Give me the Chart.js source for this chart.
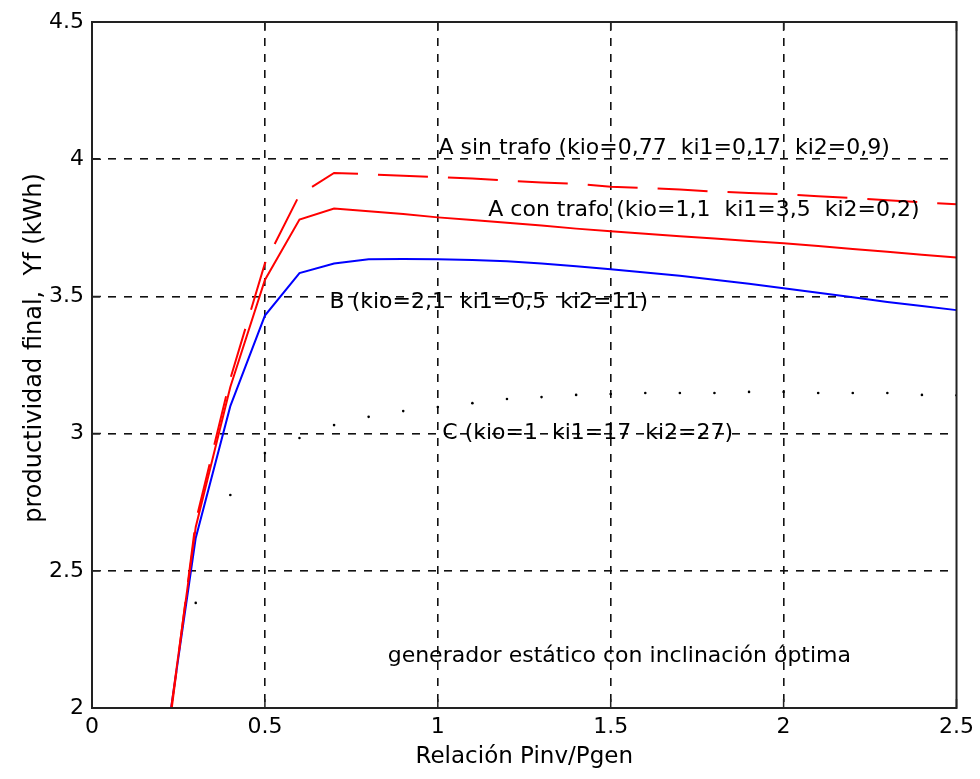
<!DOCTYPE html>
<html>
<head>
<meta charset="utf-8">
<script src="https://cdn.jsdelivr.net/npm/chart.js@4/dist/chart.umd.min.js"></script>
<style>
  html, body { margin: 0; padding: 0; background: #fff; }
</style>
</head>
<body>
<canvas id="yf-chart" width="980" height="779"></canvas>
<script>
// ratio Pinv/Pgen, sampled every 0.1
const ratio = [0.2, 0.3, 0.4, 0.5, 0.6, 0.7, 0.8, 0.9, 1.0, 1.1, 1.2, 1.3,
               1.4, 1.5, 1.6, 1.7, 1.8, 1.9, 2.0, 2.1, 2.2, 2.3, 2.4, 2.5];

// A sin trafo (dashed red)
const yfSinTrafo = [1.70, 2.68, 3.20, 3.62, 3.87, 3.95, 3.945, 3.94, 3.935, 3.93, 3.922, 3.915,
                    3.91, 3.90, 3.895, 3.89, 3.882, 3.877, 3.872, 3.865, 3.858, 3.85, 3.843, 3.836];
// A con trafo (solid red)
const yfConTrafo = [1.73, 2.66, 3.17, 3.56, 3.78, 3.82, 3.81, 3.80, 3.788, 3.778, 3.768, 3.758,
                    3.747, 3.737, 3.728, 3.719, 3.711, 3.702, 3.694, 3.684, 3.673, 3.663, 3.652, 3.642];
// B (blue)
const yfB = [1.75, 2.62, 3.10, 3.43, 3.585, 3.62, 3.635, 3.636, 3.635, 3.633, 3.628, 3.62,
             3.61, 3.599, 3.587, 3.575, 3.561, 3.546, 3.53, 3.513, 3.497, 3.48, 3.465, 3.45];
// C (dotted black)
const yfC = [1.90, 2.383, 2.776, 2.929, 2.984, 3.031, 3.061, 3.082, 3.097, 3.111, 3.126, 3.133,
             3.141, 3.144, 3.148, 3.148, 3.148, 3.152, 3.152, 3.148, 3.148, 3.148, 3.141, 3.14];

const xTickLabels = ['0', '0.5', '1', '1.5', '2', '2.5'];
const yTickLabels = ['2', '2.5', '3', '3.5', '4', '4.5'];

const xTitle = 'Relación Pinv/Pgen';
const yTitle = 'productividad final,  Yf (kWh)';

// text notes inside the axes, anchored in data units (left edge, middle)
const notes = [
  { text: 'A sin trafo (kio=0,77  ki1=0,17  ki2=0,9)', x: 1.002, y: 4.04 },
  { text: 'A con trafo (kio=1,1  ki1=3,5  ki2=0,2)', x: 1.146, y: 3.815 },
  { text: 'B (kio=2,1  ki1=0,5  ki2=11)', x: 0.687, y: 3.48 },
  { text: 'C (kio=1  ki1=17  ki2=27)', x: 1.013, y: 3.0 },
  { text: 'generador estático con inclinación óptima', x: 0.855, y: 2.19 }
];

const FONT = '"DejaVu Sans", "Liberation Sans", Arial, sans-serif';

function pairs(ys) {
  return ratio.map((r, i) => ({ x: r, y: ys[i] }));
}

// no dashed grid on the frame itself
function gridColor(ctx) {
  const s = ctx.scale;
  if (!ctx.tick || ctx.tick.value === s.min || ctx.tick.value === s.max) return 'rgba(0,0,0,0)';
  return '#111';
}

// frame, inward ticks, notes and the y title (drawn like the matlab figure)
const boxPlugin = {
  id: 'box',
  afterDatasetsDraw(chart) {
    const { ctx, chartArea: a, scales: { x, y } } = chart;
    ctx.save();
    ctx.strokeStyle = '#222';
    ctx.lineWidth = 2;
    ctx.strokeRect(a.left, a.top, a.right - a.left, a.bottom - a.top);

    ctx.lineWidth = 1.5;
    ctx.beginPath();
    x.ticks.forEach(t => {
      const px = x.getPixelForValue(t.value);
      ctx.moveTo(px, a.bottom); ctx.lineTo(px, a.bottom - 9);
      ctx.moveTo(px, a.top); ctx.lineTo(px, a.top + 9);
    });
    y.ticks.forEach(t => {
      const py = y.getPixelForValue(t.value);
      ctx.moveTo(a.left, py); ctx.lineTo(a.left + 9, py);
    });
    ctx.stroke();

    ctx.fillStyle = '#000';
    ctx.font = '22px ' + FONT;
    ctx.textAlign = 'left';
    ctx.textBaseline = 'middle';
    notes.forEach(n => {
      ctx.fillText(n.text, x.getPixelForValue(n.x), y.getPixelForValue(n.y));
    });

    ctx.font = '24px ' + FONT;
    ctx.textAlign = 'center';
    ctx.translate(35, (a.top + a.bottom) / 2 - 17);
    ctx.rotate(-Math.PI / 2);
    ctx.fillText(yTitle, 0, 0);
    ctx.restore();
  }
};

const config = {
  type: 'line',
  data: {
    datasets: [
      {
        label: 'A sin trafo',
        data: pairs(yfSinTrafo),
        borderColor: 'rgb(255, 0, 0)',
        borderWidth: 2,
        borderDash: [50, 20],
        pointRadius: 0,
        tension: 0
      },
      {
        label: 'A con trafo',
        data: pairs(yfConTrafo),
        borderColor: 'rgb(255, 0, 0)',
        borderWidth: 2,
        pointRadius: 0,
        tension: 0
      },
      {
        label: 'B',
        data: pairs(yfB),
        borderColor: 'rgb(0, 0, 255)',
        borderWidth: 2,
        pointRadius: 0,
        tension: 0
      },
      {
        label: 'C',
        data: pairs(yfC),
        showLine: false,
        pointRadius: 1.3,
        pointBorderWidth: 0,
        pointBackgroundColor: '#000',
        borderColor: '#000'
      }
    ]
  },
  options: {
    responsive: false,
    animation: false,
    events: [],
    layout: { padding: { left: 0, top: 22, right: 22, bottom: 0 } },
    plugins: {
      legend: { display: false },
      tooltip: { enabled: false }
    },
    scales: {
      x: {
        type: 'linear',
        min: 0,
        max: 2.5,
        afterFit: s => { s.height = 71; },
        border: { display: false, dash: [8, 8] },
        grid: { color: gridColor, lineWidth: 1.6, drawTicks: false },
        ticks: {
          stepSize: 0.5,
          autoSkip: false,
          maxRotation: 0,
          padding: 6,
          color: '#000',
          font: { family: FONT, size: 22 },
          callback: (v, i) => xTickLabels[i]
        },
        title: {
          display: true,
          text: xTitle,
          color: '#000',
          font: { family: FONT, size: 23 },
          padding: { top: 0, bottom: 8 }
        }
      },
      y: {
        type: 'linear',
        min: 2,
        max: 4.5,
        afterFit: s => { s.width = 92; },
        border: { display: false, dash: [8, 8] },
        grid: { color: gridColor, lineWidth: 1.6, drawTicks: false },
        ticks: {
          stepSize: 0.5,
          autoSkip: false,
          padding: 8,
          color: '#000',
          font: { family: FONT, size: 22 },
          callback: (v, i) => yTickLabels[i]
        }
      }
    }
  },
  plugins: [boxPlugin]
};

const yfChart = new Chart(document.getElementById('yf-chart'), config);
</script>
</body>
</html>
